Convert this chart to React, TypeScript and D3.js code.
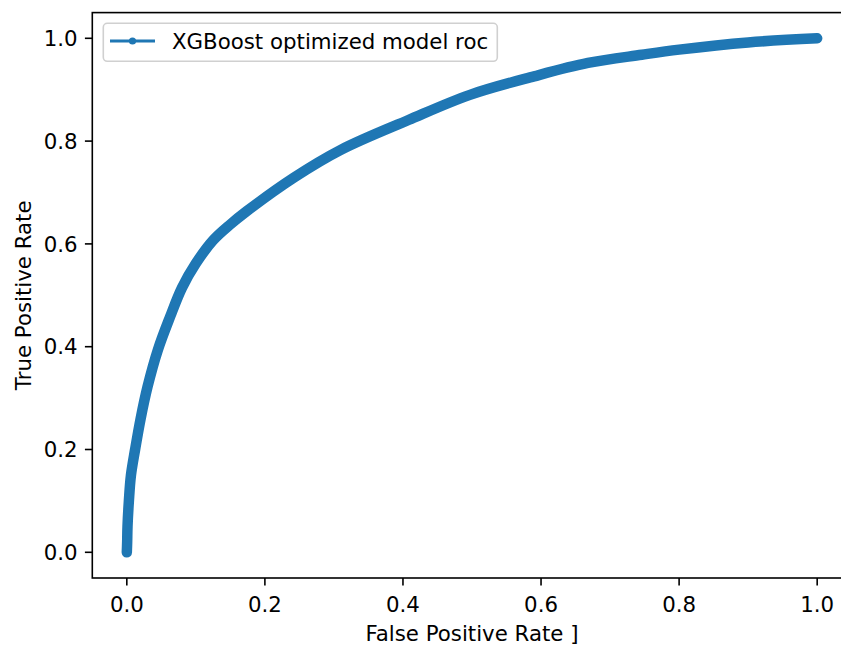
import React from "react";
import * as d3 from "d3";

const fprValues = [0, 0.0005, 0.001, 0.003, 0.006, 0.012, 0.02, 0.03, 0.045, 0.0626, 0.08, 0.1, 0.125, 0.15, 0.174, 0.242, 0.31, 0.408, 0.497, 0.59, 0.668, 0.746, 0.8, 0.9, 1.0];
const tprValues = [0, 0.02, 0.05, 0.1, 0.15, 0.2, 0.26, 0.322, 0.394, 0.458, 0.515, 0.562, 0.607, 0.638, 0.664, 0.729, 0.783, 0.841, 0.89, 0.926, 0.952, 0.968, 0.978, 0.992, 1.0];
const xTicks = [0, 0.2, 0.4, 0.6, 0.8, 1.0];
const yTicks = [0, 0.2, 0.4, 0.6, 0.8, 1.0];
const seriesName = "XGBoost optimized model roc";
const xLabel = "False Positive Rate ]";
const yLabel = "True Positive Rate";

const W = 841;
const H = 646;
const FONT = "DejaVu Sans, sans-serif";
const FS = 21.3;
const BLUE = "#1f77b4";

export default function App() {
  const left = 92.3, right = 851.7, top = 12.6, bottom = 578;
  const x = d3.scaleLinear().domain([-0.05, 1.05]).range([left, right]);
  const y = d3.scaleLinear().domain([-0.05, 1.05]).range([bottom, top]);
  const pts: [number, number][] = fprValues.map((v, i) => [v, tprValues[i]]);
  const line = d3
    .line<[number, number]>()
    .x((d) => x(d[0]))
    .y((d) => y(d[1]))
    .curve(d3.curveCatmullRom.alpha(0.5));
  const path = line(pts) || "";
  const tickLen = 7.4;
  return (
    <svg
      width={W}
      height={H}
      style={{ position: "absolute", left: 0, top: 0, background: "#fff" }}
      fontFamily={FONT}
    >
      <defs>
        <clipPath id="plotclip">
          <rect x={left} y={top} width={right - left} height={bottom - top} />
        </clipPath>
      </defs>
      <g clipPath="url(#plotclip)">
        <path d={path} fill="none" stroke={BLUE} strokeWidth={10.5} strokeLinecap="round" strokeLinejoin="round" />
      </g>
      <rect x={left} y={top} width={right - left} height={bottom - top} fill="none" stroke="#000" strokeWidth={1.6} />
      {xTicks.map((t) => (
        <g key={"x" + t}>
          <line x1={x(t)} x2={x(t)} y1={bottom} y2={bottom + tickLen} stroke="#000" strokeWidth={1.6} />
          <text x={x(t)} y={611.5} textAnchor="middle" fontSize={FS} fill="#000">
            {t.toFixed(1)}
          </text>
        </g>
      ))}
      {yTicks.map((t) => (
        <g key={"y" + t}>
          <line x1={left - tickLen} x2={left} y1={y(t)} y2={y(t)} stroke="#000" strokeWidth={1.6} />
          <text x={77.5} y={y(t) + 7.6} textAnchor="end" fontSize={FS} fill="#000">
            {t.toFixed(1)}
          </text>
        </g>
      ))}
      <text x={(left + right) / 2} y={640.5} textAnchor="middle" fontSize={FS} fill="#000">
        {xLabel}
      </text>
      <text
        transform={`translate(31,${(top + bottom) / 2}) rotate(-90)`}
        textAnchor="middle"
        fontSize={FS}
        fill="#000"
      >
        {yLabel}
      </text>
      <rect x={103.3} y={23.3} width={394} height={38} rx={4} fill="#fff" fillOpacity={0.8} stroke="#d0d0d0" strokeWidth={1.6} />
      <line x1={110} x2={155} y1={41} y2={41} stroke={BLUE} strokeWidth={3.2} />
      <circle cx={132.5} cy={41} r={3.6} fill={BLUE} />
      <text x={172} y={48.7} fontSize={FS} fill="#000">
        {seriesName}
      </text>
    </svg>
  );
}
